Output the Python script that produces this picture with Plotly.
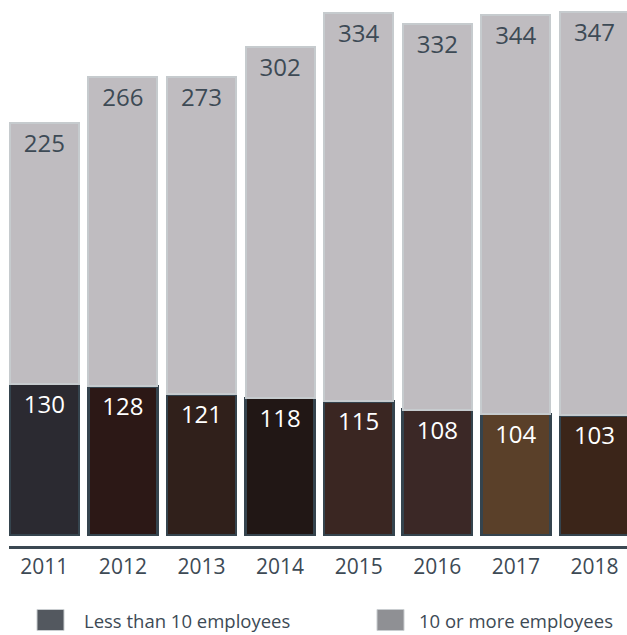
import plotly.graph_objects as go

years = ["2011", "2012", "2013", "2014", "2015", "2016", "2017", "2018"]
small_firms = [130, 128, 121, 118, 115, 108, 104, 103]
large_firms = [225, 266, 273, 302, 334, 332, 344, 347]
series_names = ["Less than 10 employees", "10 or more employees"]

# styling (per-bar average tones of the photo textures)
small_colors = ["#2b2a31", "#2c1816", "#30201b", "#211715", "#3a2622",
                "#3b2826", "#5a4029", "#3b2519"]
large_color = "#bfbcc0"
legend_colors = ["#53585f", "#8f9094"]
FONT = "Segoe UI, Open Sans, Noto Sans, sans-serif"
TEXT_COL = "#3d4a55"

W, H = 627, 635
ML, MR, MT, MB = 9, 0, 0, 89
PW, PH = W - ML - MR, H - MT - MB


def px_x(px):
    return (px - ML) / PW


def px_y(py):
    return (H - MB - py) / PH


fig = go.Figure()
fig.add_trace(go.Bar(
    x=years, y=small_firms, name=series_names[0], showlegend=False,
    marker=dict(color=small_colors, line=dict(color="#35444e", width=2.5)),
    texttemplate="%{y}", textposition="inside", insidetextanchor="end",
    textfont=dict(color="white", size=24, family=FONT),
    width=0.88,
))
fig.add_trace(go.Bar(
    x=years, y=large_firms, name=series_names[1], showlegend=False,
    marker=dict(color=large_color, line=dict(color="#c6cbce", width=2)),
    texttemplate="%{y}", textposition="inside", insidetextanchor="end",
    textfont=dict(color=TEXT_COL, size=24, family=FONT),
    width=0.88,
))

# hand-placed legend
legend_boxes = [(37, 64), (377, 404)]
legend_text_x = [82, 417]
for name, col, (x0, x1), tx in zip(series_names, legend_colors,
                                   legend_boxes, legend_text_x):
    fig.add_shape(type="rect", xref="paper", yref="paper",
                  x0=px_x(x0), x1=px_x(x1), y0=px_y(630.5), y1=px_y(609.5),
                  fillcolor=col, line=dict(color="#c9cdd0", width=1))
    fig.add_annotation(text=name, xref="paper", yref="paper",
                       x=px_x(tx), y=px_y(620), xanchor="left",
                       yanchor="middle", showarrow=False,
                       font=dict(size=18.5, color=TEXT_COL, family=FONT))

fig.update_layout(
    width=W, height=H,
    margin=dict(l=ML, r=MR, t=MT, b=MB),
    barmode="stack",
    showlegend=False,
    plot_bgcolor="white", paper_bgcolor="white",
    font=dict(family=FONT, color=TEXT_COL),
    xaxis=dict(
        type="category", range=[-0.449, 7.414], showgrid=False,
        showline=True, linecolor="#3b4852", linewidth=3,
        ticks="", tickfont=dict(size=21, color=TEXT_COL, family=FONT),
        fixedrange=True, automargin=False,
    ),
    yaxis=dict(range=[-9.5, 460.5], visible=False, showgrid=False,
               zeroline=False, fixedrange=True, automargin=False),
)

fig.write_html(
    "out.html",
    config={"displayModeBar": False},
    post_script="document.body.style.margin='0';"
                "document.body.style.overflow='hidden';",
)
